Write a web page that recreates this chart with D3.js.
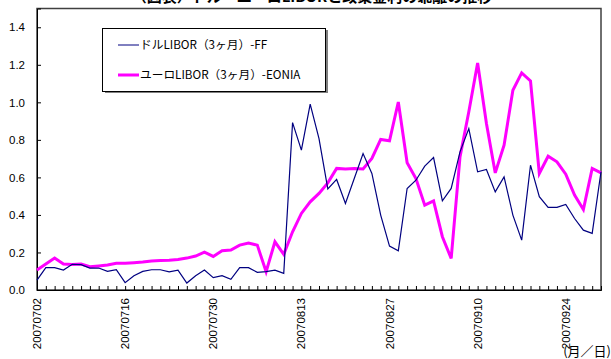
<!DOCTYPE html>
<html>
<head>
<meta charset="utf-8">
<script src="https://cdn.jsdelivr.net/npm/d3@7"></script>
<style>
  html, body { margin: 0; padding: 0; background: #fff; }
  svg { display: block; }
  .tick-label { font-family: "Liberation Sans", Arial, sans-serif; font-size: 11.5px; fill: #000; }
  .jp { font-family: "Noto Sans CJK JP", sans-serif; fill: #000; }
</style>
</head>
<body>
<svg id="chart" width="611" height="359"></svg>
<script>
// Business days, July - September 2007
const dates = [
  "20070702","20070703","20070704","20070705","20070706","20070709","20070710","20070711","20070712","20070713",
  "20070716","20070717","20070718","20070719","20070720","20070723","20070724","20070725","20070726","20070727",
  "20070730","20070731","20070801","20070802","20070803","20070806","20070807","20070808","20070809","20070810",
  "20070813","20070814","20070815","20070816","20070817","20070820","20070821","20070822","20070823","20070824",
  "20070827","20070828","20070829","20070830","20070831","20070903","20070904","20070905","20070906","20070907",
  "20070910","20070911","20070912","20070913","20070914","20070917","20070918","20070919","20070920","20070921",
  "20070924","20070925","20070926","20070927","20070928"
];

// USD LIBOR (3M) minus Fed Funds (%)
const usdSpread = [
  0.053,0.119,0.119,0.106,0.137,0.135,0.117,0.117,0.099,0.108,
  0.039,0.076,0.099,0.108,0.108,0.097,0.106,0.037,0.076,0.106,
  0.066,0.076,0.057,0.119,0.119,0.094,0.098,0.106,0.089,0.892,
  0.745,0.990,0.807,0.539,0.589,0.461,0.594,0.727,0.621,0.399,
  0.234,0.209,0.541,0.585,0.660,0.706,0.475,0.541,0.736,0.860,
  0.630,0.642,0.523,0.603,0.399,0.266,0.665,0.497,0.440,0.440,
  0.456,0.381,0.319,0.302,0.630
];

// EUR LIBOR (3M) minus EONIA (%)
const eurSpread = [
  0.106,0.138,0.170,0.138,0.136,0.138,0.124,0.128,0.133,0.142,
  0.142,0.145,0.149,0.155,0.157,0.159,0.163,0.170,0.181,0.202,
  0.179,0.209,0.213,0.239,0.250,0.239,0.097,0.257,0.190,0.310,
  0.408,0.470,0.515,0.571,0.648,0.645,0.647,0.645,0.701,0.802,
  0.795,1.002,0.678,0.594,0.452,0.475,0.284,0.168,0.709,0.950,
  1.210,0.887,0.624,0.772,1.064,1.157,1.114,0.621,0.713,0.683,
  0.617,0.506,0.429,0.648,0.624
];

const xTickLabels = ["20070702","20070716","20070730","20070813","20070827","20070910","20070924"];
const yTicks = [0, 0.2, 0.4, 0.6, 0.8, 1.0, 1.2, 1.4];
const seriesNames = ["ドルLIBOR（3ヶ月）-FF", "ユーロLIBOR（3ヶ月）-EONIA"];
const titleText = "（図表）ドル・ユーロLIBORと政策金利の乖離の推移";

const svg = d3.select("#chart");
const plotLeft = 37, plotRight = 601, plotTop = 8.5, plotBottom = 290;

const x = d3.scalePoint().domain(dates).range([plotLeft, plotRight]);
const y = d3.scaleLinear().domain([0, 1.5]).range([plotBottom, plotTop]);

// Title (runs off the top edge of the page)
svg.append("text").attr("class", "jp")
  .attr("x", 312).attr("y", 1.5)
  .attr("text-anchor", "middle")
  .attr("font-size", 15).attr("font-weight", "bold")
  .text(titleText);

// Plot area frame
svg.append("rect")
  .attr("x", plotLeft).attr("y", plotTop)
  .attr("width", plotRight - plotLeft).attr("height", plotBottom - plotTop)
  .attr("fill", "none").attr("stroke", "#404040").attr("stroke-width", 1.5);

// Y axis
const yAxis = d3.axisLeft(y).tickValues(yTicks).tickSize(-4).tickPadding(12)
  .tickFormat(d3.format(".1f"));
const gy = svg.append("g").attr("transform", `translate(${plotLeft},0)`).call(yAxis);
gy.attr("font-family", null).attr("font-size", null);
gy.select(".domain").attr("stroke", "#000");
gy.selectAll(".tick line").attr("stroke", "#000");
gy.selectAll(".tick text").attr("class", "tick-label");

// X axis: a tick at every business day, labels every ten days
const xAxis = d3.axisBottom(x).tickSize(-4).tickFormat(() => "");
const gx = svg.append("g").attr("transform", `translate(0,${plotBottom})`).call(xAxis);
gx.select(".domain").attr("stroke", "#000");
gx.selectAll(".tick line").attr("stroke", "#000");

svg.append("g").selectAll("text")
  .data(xTickLabels)
  .join("text")
  .attr("class", "tick-label")
  .attr("transform", d => `translate(${x(d)},298) rotate(-90)`)
  .attr("text-anchor", "end")
  .attr("dy", "0.35em")
  .text(d => d);

svg.append("text").attr("class", "jp")
  .attr("x", 611).attr("y", 356)
  .attr("text-anchor", "end")
  .attr("font-size", 13)
  .text("(月／日)");

// Lines
const line = d3.line().x((d, i) => x(dates[i])).y(d => y(d));

svg.append("path").datum(eurSpread)
  .attr("d", line).attr("fill", "none")
  .attr("stroke", "#FF00FF").attr("stroke-width", 3)
  .attr("stroke-linejoin", "miter");

svg.append("path").datum(usdSpread)
  .attr("d", line).attr("fill", "none")
  .attr("stroke", "#000080").attr("stroke-width", 1.2);

// Legend
const lg = svg.append("g");
lg.append("rect").attr("x", 105).attr("y", 30).attr("width", 223).attr("height", 63).attr("fill", "#808080");
lg.append("rect").attr("x", 102.5).attr("y", 28.5).attr("width", 223).attr("height", 63)
  .attr("fill", "#fff").attr("stroke", "#000").attr("stroke-width", 1);
const legendItems = [
  { name: seriesNames[0], color: "#000080", width: 1, y: 45 },
  { name: seriesNames[1], color: "#FF00FF", width: 3, y: 75 }
];
legendItems.forEach(it => {
  lg.append("line").attr("x1", 118).attr("x2", 139).attr("y1", it.y).attr("y2", it.y)
    .attr("stroke", it.color).attr("stroke-width", it.width);
  lg.append("text").attr("class", "jp")
    .attr("x", 140).attr("y", it.y).attr("dy", "0.36em")
    .attr("font-size", 11.7)
    .text(it.name);
});
</script>
</body>
</html>
